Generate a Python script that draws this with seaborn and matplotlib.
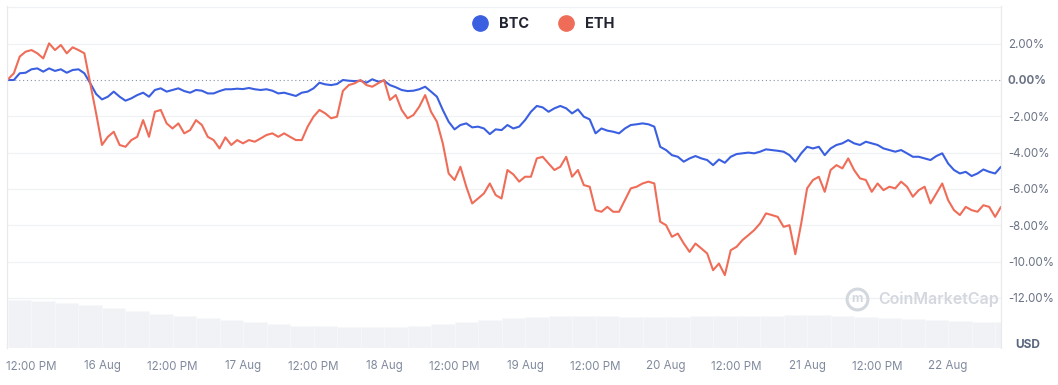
import numpy as np
import pandas as pd
import matplotlib
matplotlib.use("Agg")
import matplotlib.pyplot as plt
from matplotlib.lines import Line2D
import seaborn as sns

# ---------------- data ----------------
start = "2023-08-15 08:00"
btc = [0.00, 0.00, 0.37, 0.40, 0.59, 0.64, 0.46, 0.64, 0.50, 0.59,
       0.40, 0.55, 0.59, 0.37, -0.18, -0.77, -1.07, -0.92, -0.64, -0.92,
       -1.14, -1.01, -0.83, -0.70, -0.92, -0.55, -0.46, -0.64, -0.55, -0.46,
       -0.61, -0.70, -0.55, -0.59, -0.74, -0.74, -0.61, -0.51, -0.51, -0.48,
       -0.50, -0.44, -0.51, -0.55, -0.51, -0.59, -0.74, -0.70, -0.79, -0.88,
       -0.70, -0.64, -0.46, -0.15, -0.24, -0.28, -0.22, 0.00, -0.04, -0.06,
       -0.04, -0.15, 0.04, -0.09, -0.04, -0.28, -0.40, -0.55, -0.61, -0.59,
       -0.51, -0.37, -0.64, -0.92, -1.65, -2.30, -2.72, -2.48, -2.39, -2.61,
       -2.57, -2.67, -2.98, -2.72, -2.76, -2.48, -2.67, -2.57, -2.21, -1.75,
       -1.43, -1.51, -1.75, -1.56, -1.43, -1.56, -1.84, -1.62, -2.02, -2.17,
       -2.94, -2.67, -2.79, -2.85, -2.94, -2.67, -2.48, -2.44, -2.39, -2.44,
       -2.57, -3.68, -3.86, -4.14, -4.23, -4.50, -4.32, -4.19, -4.32, -4.41,
       -4.69, -4.38, -4.56, -4.23, -4.08, -4.04, -4.00, -4.04, -3.95, -3.82,
       -3.86, -3.90, -3.95, -4.14, -4.50, -4.04, -3.68, -3.77, -3.68, -4.14,
       -3.77, -3.58, -3.49, -3.31, -3.49, -3.58, -3.40, -3.49, -3.58, -3.77,
       -3.86, -3.95, -3.86, -4.04, -4.23, -4.23, -4.32, -4.41, -4.19, -4.04,
       -4.60, -4.96, -5.15, -5.06, -5.29, -5.15, -4.93, -5.06, -5.15, -4.78]
eth = [0.04, 0.37, 1.29, 1.56, 1.65, 1.47, 1.19, 2.02, 1.65, 1.93,
       1.47, 1.80, 1.65, 1.47, -0.18, -1.84, -3.58, -3.13, -2.85, -3.58,
       -3.68, -3.31, -3.13, -2.21, -3.13, -1.75, -1.65, -2.39, -2.67, -2.39,
       -2.94, -2.76, -2.21, -2.48, -3.13, -3.31, -3.77, -3.16, -3.58, -3.31,
       -3.49, -3.31, -3.40, -3.22, -3.03, -2.94, -3.13, -2.94, -3.13, -3.31,
       -3.31, -2.57, -2.02, -1.65, -1.84, -2.11, -2.02, -0.60, -0.28, -0.18,
       0.00, -0.28, -0.37, -0.18, 0.00, -1.10, -0.83, -1.65, -2.11, -1.93,
       -1.47, -0.83, -1.75, -2.30, -3.49, -5.15, -5.51, -4.78, -5.88, -6.80,
       -6.53, -6.25, -5.70, -6.34, -6.53, -4.96, -5.20, -5.60, -5.33, -5.33,
       -4.32, -4.23, -4.60, -4.96, -4.78, -4.23, -5.33, -4.96, -5.79, -5.88,
       -7.17, -7.26, -6.99, -7.26, -7.26, -6.62, -5.97, -5.88, -5.70, -5.60,
       -5.70, -7.81, -8.00, -8.64, -8.46, -9.00, -9.47, -9.01, -9.28, -9.56,
       -10.48, -10.11, -10.75, -9.38, -9.19, -8.82, -8.55, -8.27, -7.90, -7.35,
       -7.44, -7.54, -8.09, -8.00, -9.60, -7.90, -5.97, -5.51, -5.33, -6.16,
       -4.96, -4.69, -4.87, -4.32, -4.96, -5.42, -5.51, -6.16, -5.70, -6.07,
       -5.88, -5.97, -5.60, -5.88, -6.43, -6.07, -5.88, -6.80, -6.25, -5.70,
       -6.62, -7.17, -7.44, -6.99, -7.17, -7.26, -6.90, -6.99, -7.54, -6.99]
# volume (relative units), one value per 4 hours
volume = [48, 47, 45, 43, 40, 37, 34, 32, 30, 28, 26, 24, 22, 22, 21, 21,
          21, 22, 24, 26, 28, 30, 31, 32, 32, 32, 31, 31, 31, 32, 32, 32,
          32, 33, 33, 32, 31, 30, 29, 28, 27, 26, 26]
x_tick_labels = ["12:00 PM", "16 Aug", "12:00 PM", "17 Aug", "12:00 PM", "18 Aug",
                 "12:00 PM", "19 Aug", "12:00 PM", "20 Aug", "12:00 PM", "21 Aug",
                 "12:00 PM", "22 Aug"]
y_ticks = [2, 0, -2, -4, -6, -8, -10, -12]
coins = ["BTC", "ETH"]
colors = {"BTC": "#3a5fe0", "ETH": "#ef6d58"}

# ---------------- style ----------------
sns.set_theme(style="white")
plt.rcParams["font.family"] = ["Inter", "DejaVu Sans"]

times = pd.date_range(start, periods=len(btc), freq="h")
df = pd.DataFrame({
    "time": list(times) + list(times),
    "change": btc + eth,
    "coin": ["BTC"] * len(btc) + ["ETH"] * len(eth),
})

W, H = 1058, 385
fig = plt.figure(figsize=(W / 100, H / 100), dpi=100)
fig.patch.set_facecolor("white")
left, right, top, bottom = 7, 1001, 6, 348
pos = [left / W, (H - bottom) / H, (right - left) / W, (bottom - top) / H]

vax = fig.add_axes(pos, zorder=0)
ax = fig.add_axes(pos, zorder=1, sharex=vax)
ax.patch.set_visible(False)

# volume bars
vtimes = pd.date_range(start, periods=len(volume), freq="4h") + pd.Timedelta(hours=2)
vax.bar(vtimes, volume, width=4 / 24, color="#f0f2f5", edgecolor="#f7f8fa",
        linewidth=0.5)
vax.set_ylim(0, bottom - top)
vax.set_yticks([])
for s in vax.spines.values():
    s.set_visible(False)
vax.tick_params(axis="x", length=0)

# lines
sns.lineplot(data=df, x="time", y="change", hue="coin", hue_order=coins,
             palette=colors, ax=ax, linewidth=1.5, legend=False)

ymin = (80 - bottom) / 18.15
ymax = (80 - top) / 18.15
ax.set_ylim(ymin, ymax)
ax.set_xlim(times[0] - pd.Timedelta(minutes=10), times[0] + pd.Timedelta(hours=169))

# grid
for yv in [4] + y_ticks:
    if yv == 0:
        ax.axhline(0, color="#8a93a4", lw=0.8, ls=(0, (1, 2.5)), zorder=0.5)
    else:
        ax.axhline(yv, color="#eff1f4", lw=0.9, zorder=0.5)

# y ticks on right
ax.yaxis.tick_right()
ax.set_yticks(y_ticks)
ax.set_yticklabels([f"{v:.2f}%" for v in y_ticks])
ax.tick_params(axis="y", length=0, pad=5, labelsize=8.3, labelcolor="#6b7385")
for lab, v in zip(ax.get_yticklabels(), y_ticks):
    if v == 0:
        lab.set_fontweight("bold")
ax.set_ylabel("")
ax.set_xlabel("")

# x ticks
xt = pd.date_range("2023-08-15 12:00", periods=len(x_tick_labels), freq="12h")
ax.set_xticks(xt)
ax.set_xticklabels(x_tick_labels)
ax.tick_params(axis="x", length=0, pad=9, labelsize=8.3, labelcolor="#808a9d")
vax.tick_params(labelbottom=False)

for s in ["top", "bottom"]:
    ax.spines[s].set_visible(False)
for s in ["left", "right"]:
    ax.spines[s].set_visible(True)
    ax.spines[s].set_color("#e8eaee")
    ax.spines[s].set_linewidth(0.9)

# legend
handles = [Line2D([], [], marker="o", ls="", markersize=11,
                  markerfacecolor=colors[c], markeredgecolor=colors[c]) for c in coins]
fig.legend(handles, coins, loc="center", bbox_to_anchor=(540 / W, 1 - 24 / H),
           ncol=2, frameon=False, handletextpad=0.3, columnspacing=1.5,
           prop={"weight": "bold", "size": 10.5}, labelcolor="#222531")

# watermark
fig.text(878 / W, 1 - 299 / H, "CoinMarketCap", fontsize=11.5, color="#d3d7de",
         fontweight="semibold", va="center", ha="left")
fig.add_artist(Line2D([857 / W], [1 - 299 / H], transform=fig.transFigure,
                      marker="o", markersize=15, markerfacecolor="none",
                      markeredgecolor="#d3d7de", markeredgewidth=2.2, ls=""))
fig.text(857 / W, 1 - 299 / H, "m", fontsize=9, color="#d3d7de",
         fontweight="bold", va="center", ha="center")
# USD label
fig.text(1015 / W, 1 - 345 / H, "USD", fontsize=8.5, color="#58667e",
         fontweight="bold", va="center", ha="left")

fig.savefig("out.png", dpi=100, facecolor="white")
